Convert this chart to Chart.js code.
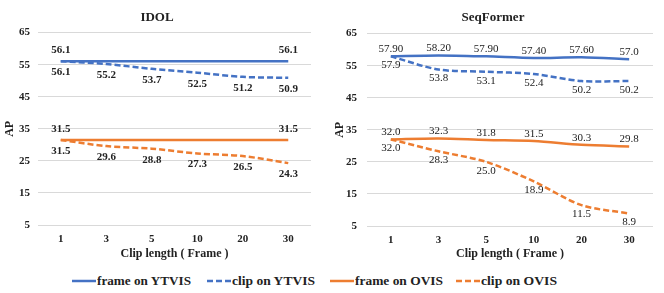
<!DOCTYPE html>
<html><head><meta charset="utf-8">
<script src="https://cdn.jsdelivr.net/npm/chart.js@4.4.1/dist/chart.umd.min.js"></script>
<style>
html,body{margin:0;padding:0;background:#fff;width:664px;height:293px;overflow:hidden;font-family:"Liberation Serif",serif}
#wrap{position:relative;width:664px;height:293px}
.box{position:absolute;top:0;height:264px;width:332px}
#b1{left:0}#b2{left:332px}
#legend{position:absolute;top:272px;left:0;width:664px;height:18px}
#legend .it{position:absolute;top:0;height:18px;display:flex;align-items:center;font:bold 13px "Liberation Serif",serif;color:#222;white-space:nowrap}
#legend .tx{display:inline-block;transform-origin:left center}
#legend svg{margin-right:1px}
</style>
</head><body>
<div id="wrap">
  <div class="box" id="b1"><canvas id="c1"></canvas></div>
  <div class="box" id="b2"><canvas id="c2"></canvas></div>
  <div id="legend"></div>
</div>
<script>
const categories = ['1','3','5','10','20','30'];
const yTicks = [5,15,25,35,45,55,65];
const seriesNames = ['frame on YTVIS','clip on YTVIS','frame on OVIS','clip on OVIS'];

const idolFrameYtvis = [56.1,null,null,null,null,56.1];
const idolClipYtvis  = [56.1,55.2,53.7,52.5,51.2,50.9];
const idolFrameOvis  = [31.5,null,null,null,null,31.5];
const idolClipOvis   = [31.5,29.6,28.8,27.3,26.5,24.3];

const seqFrameYtvis = [57.9,58.2,57.9,57.4,57.6,57.0];
const seqFrameYtvisText = ['57.90','58.20','57.90','57.40','57.60','57.0'];
const seqClipYtvis  = [57.9,53.8,53.1,52.4,50.2,50.2];
const seqFrameOvis  = [32.0,32.3,31.8,31.5,30.3,29.8];
const seqClipOvis   = [32.0,28.3,25.0,18.9,11.5,8.9];

const BLUE = '#4472C4', ORANGE = '#ED7D31', TXT = '#222';
const FONT = '"Liberation Serif", serif';

const labelPlugin = {
  id: 'vlabels',
  afterDatasetsDraw(chart, args, opts) {
    const ctx = chart.ctx;
    chart.data.datasets.forEach((ds, i) => {
      const meta = chart.getDatasetMeta(i);
      meta.data.forEach((pt, j) => {
        const v = ds.data[j];
        if (v == null) return;
        const txt = ds.labelText ? ds.labelText[j] : v.toFixed(1);
        ctx.save();
        ctx.font = opts.font;
        ctx.fillStyle = TXT;
        ctx.textAlign = 'center';
        ctx.textBaseline = 'middle';
        const dy = ds.labelPos === 'above' ? -opts.above : opts.below;
        ctx.fillText(txt, pt.x, pt.y + dy);
        ctx.restore();
      });
    });
  }
};

function ds(label, data, color, dashed, pos, text) {
  return {
    label, data, borderColor: color, backgroundColor: color,
    borderWidth: 2.5, borderDash: dashed ? [6, 3] : [],
    pointRadius: 0, tension: 0.3, spanGaps: true, fill: false,
    labelPos: pos, labelText: text
  };
}

function makeChart(id, title, datasets, cfg) {
  return new Chart(document.getElementById(id), {
    type: 'line',
    data: { labels: categories, datasets },
    plugins: [labelPlugin],
    options: {
      responsive: true, maintainAspectRatio: false, animation: false,
      layout: { padding: { left: cfg.padLeft, right: cfg.padRight, top: 0, bottom: 0 } },
      plugins: {
        legend: { display: false },
        tooltip: { enabled: false },
        title: { display: true, text: title, color: TXT,
          font: { family: FONT, size: 13, weight: 'bold' },
          padding: { top: 10, bottom: cfg.titleBottom } },
        vlabels: { font: cfg.labelFont, above: cfg.above, below: cfg.below }
      },
      scales: {
        x: {
          offset: true,
          grid: { display: false, drawTicks: false },
          border: { display: false },
          ticks: { color: TXT, padding: 8, font: { family: FONT, size: 11, weight: 'bold' } },
          title: { display: true, text: 'Clip length ( Frame )', color: TXT,
            font: { family: FONT, size: 12, weight: 'bold' }, padding: { top: 0, bottom: cfg.xTitleBottom } },
          afterFit(s) { s.height = cfg.xHeight; }
        },
        y: {
          min: 5, max: 65,
          afterBuildTicks(s) { s.ticks = yTicks.map(v => ({ value: v })); },
          grid: { color: '#d9d9d9', lineWidth: 1, drawTicks: false },
          border: { display: false },
          ticks: { color: TXT, padding: cfg.yPad, font: { family: FONT, size: 11, weight: 'bold' } },
          title: { display: true, text: 'AP', color: TXT,
            font: { family: FONT, size: 12, weight: 'bold' }, padding: 0 },
          afterFit(s) { s.width = cfg.yWidth; }
        }
      }
    }
  });
}

makeChart('c1', 'IDOL', [
  ds(seriesNames[0], idolFrameYtvis, BLUE, false, 'above'),
  ds(seriesNames[1], idolClipYtvis, BLUE, true, 'below'),
  ds(seriesNames[2], idolFrameOvis, ORANGE, false, 'above'),
  ds(seriesNames[3], idolClipOvis, ORANGE, true, 'below')
], { padLeft: 3, padRight: 21, yWidth: 35, yPad: 8, xHeight: 39, xTitleBottom: 3, titleBottom: 7,
     labelFont: 'bold 11px ' + FONT, above: 11, below: 11 });

makeChart('c2', 'SeqFormer', [
  ds(seriesNames[0], seqFrameYtvis, BLUE, false, 'above', seqFrameYtvisText),
  ds(seriesNames[1], seqClipYtvis, BLUE, true, 'below'),
  ds(seriesNames[2], seqFrameOvis, ORANGE, false, 'above'),
  ds(seriesNames[3], seqClipOvis, ORANGE, true, 'below')
], { padLeft: 1, padRight: 11, yWidth: 34, yPad: 10, xHeight: 38, xTitleBottom: 3, titleBottom: 8,
     labelFont: '11px ' + FONT, above: 7, below: 9 });

// shared legend (positions / text widths matched to reference)
const legendDefs = [[BLUE,false,72,94],[BLUE,true,207,83],[ORANGE,false,330,88],[ORANGE,true,456,76]];
const leg = document.getElementById('legend');
seriesNames.forEach((name, i) => {
  const [c, dashed, x, w] = legendDefs[i];
  const it = document.createElement('span');
  it.className = 'it';
  it.style.left = x + 'px';
  it.innerHTML = `<svg width="24" height="6"><line x1="0" y1="3" x2="24" y2="3" stroke="${c}" stroke-width="2.5" ${dashed ? 'stroke-dasharray="6,3"' : ''}/></svg><span class="tx">${name}</span>`;
  leg.appendChild(it);
  const tx = it.querySelector('.tx');
  const nat = tx.getBoundingClientRect().width;
  tx.style.transform = `scaleX(${(w / nat).toFixed(3)})`;
});
</script>
</body></html>
